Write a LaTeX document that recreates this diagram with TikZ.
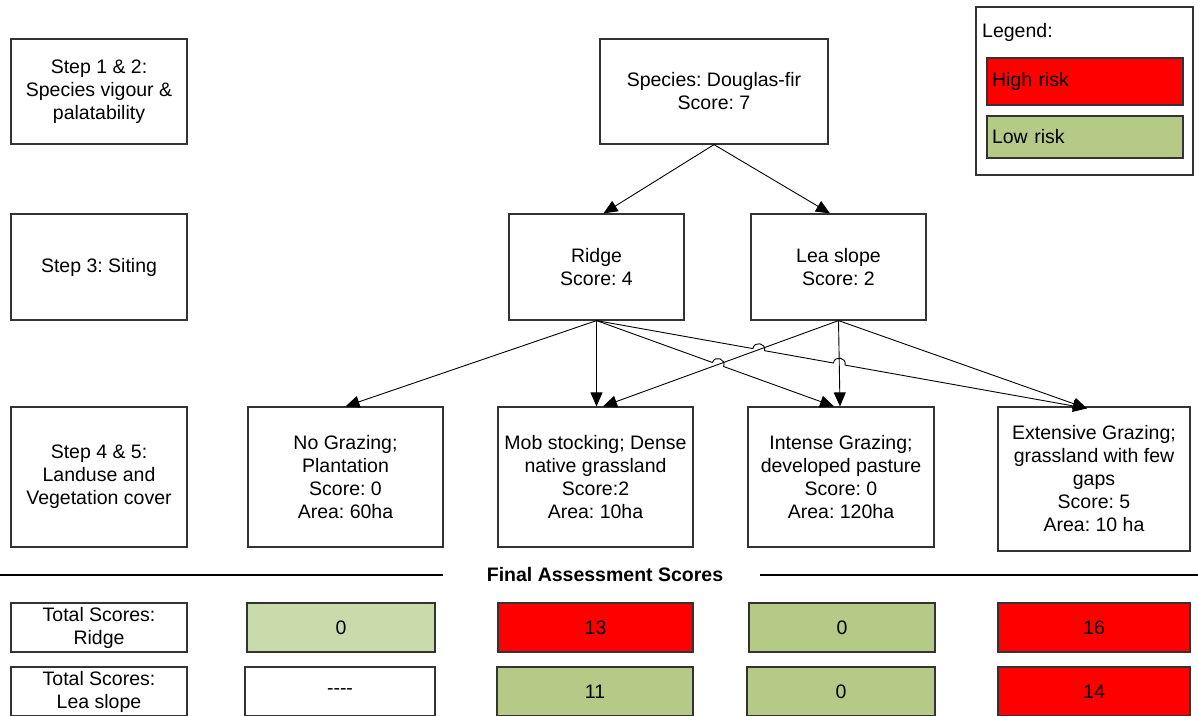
\documentclass[tikz,border=0pt]{standalone}
\usepackage{fontspec}
\setmainfont{Liberation Sans}
\usetikzlibrary{arrows.meta,calc,intersections}
\definecolor{hi}{HTML}{FF0000}
\definecolor{lo}{HTML}{B5CA87}
\definecolor{lotwo}{HTML}{CADBAB}
\frenchspacing
\begin{document}
\begin{tikzpicture}[x=1pt,y=-1pt,
  box/.style={draw=black!80, line width=1.2pt, fill=white, inner sep=0pt, align=center,
    font=\fontsize{19.5}{23}\selectfont},
  cell/.style={box, minimum height=49pt},
  lgbox/.style={box, align=left, text width=186pt, inner xsep=5pt, minimum width=196pt},
  arr/.style={line width=0.9pt, -{Triangle[length=14pt,width=12pt]}},
  sepline/.style={line width=2.7pt}]
\useasboundingbox (0,0) rectangle (1198,715);
\clip (0,0) rectangle (1198,715);

% step labels
\node[box, minimum width=176pt, minimum height=105pt] (s12) at (99,91.5) {Step 1 \& 2:\\Species vigour \&\\palatability};
\node[box, minimum width=176pt, minimum height=106pt] (s3) at (99,267) {Step 3: Siting};
\node[box, minimum width=176pt, minimum height=140pt] (s45) at (99,477) {Step 4 \& 5:\\Landuse and\\Vegetation cover};

% tree
\node[box, minimum width=228pt, minimum height=105pt] (sp) at (714,91.5) {Species: Douglas-fir\\Score: 7};
\node[box, minimum width=175pt, minimum height=106pt] (ridge) at (596.5,267) {Ridge\\Score: 4};
\node[box, minimum width=175pt, minimum height=106pt] (lea) at (838.5,267) {Lea slope\\Score: 2};

\node[box, minimum width=195pt, minimum height=140pt] (ng) at (345.5,477) {No Grazing;\\Plantation\\Score: 0\\Area: 60ha};
\node[box, minimum width=195pt, minimum height=140pt] (mob) at (595.5,477) {Mob stocking; Dense\\native grassland\\Score:2\\Area: 10ha};
\node[box, minimum width=186pt, minimum height=140pt] (int) at (841,477) {Intense Grazing;\\developed pasture\\Score: 0\\Area: 120ha};
\node[box, minimum width=192pt, minimum height=144pt] (ext) at (1094,479) {Extensive Grazing;\\grassland with few\\gaps\\Score: 5\\Area: 10 ha};

% connector end points
\coordinate (ridgeT) at ($(ridge.north)+(7,0)$);
\coordinate (leaT) at ($(lea.north)+(-8.5,0)$);
\coordinate (mobTR) at ($(mob.north)+(7.5,0)$);
\coordinate (intTR) at ($(int.north)+(-7,0)$);
\coordinate (intTL) at ($(int.north)+(-1,0)$);
\coordinate (extT) at ($(ext.north)+(-7,2)$);

\draw[arr] (sp.south) -- (ridgeT);
\draw[arr] (sp.south) -- (leaT);
\draw[arr] (ridge.south) -- (ng.north);
\draw[arr] (ridge.south) -- (ridge.south |- mob.north);
\draw[arr] (lea.south) -- (mobTR);
\draw[arr] (lea.south) -- (intTL);
\draw[arr] (lea.south) -- (extT);

\path[name path=LM] (lea.south) -- (mobTR);
\path[name path=LI] (lea.south) -- (intTL);
\path[name path=RI] (ridge.south) -- (intTR);
\path[name path=RE] (ridge.south) -- (extT);
\path[name intersections={of=RI and LM, by={h1}}];
\path[name intersections={of=RE and LM, by={h2}}];
\path[name intersections={of=RE and LI, by={h3}}];

\draw[arr] (ridge.south) -- ($(h1)!6pt!(ridge.south)$)
  to[bend left=90, looseness=1.7] ($(h1)!6pt!(intTR)$) -- (intTR);
\draw[arr] (ridge.south) -- ($(h2)!6pt!(ridge.south)$)
  to[bend left=90, looseness=1.7] ($(h2)!6pt!(extT)$)
  -- ($(h3)!6pt!(ridge.south)$)
  to[bend left=90, looseness=1.7] ($(h3)!6pt!(extT)$) -- (extT);

% final assessment separator
\node[font=\fontsize{19.5}{23}\selectfont\bfseries, inner sep=0pt] (fas) at (605,575) {Final Assessment Scores};
\coordinate (la) at (0,575);
\coordinate (lb) at (443,575);
\coordinate (ra) at (760,575);
\coordinate (rb) at (1198,575);
\draw[sepline] (la) -- (lb);
\draw[sepline] (ra) -- (rb);

% score rows
\node[cell, minimum width=176pt] (tr) at (99,627.5) {Total Scores:\\Ridge};
\node[cell, fill=lotwo, minimum width=188pt] (r1) at (341,627.5) {0};
\node[cell, fill=hi, minimum width=195pt] (r2) at (595.5,627.5) {13};
\node[cell, fill=lo, minimum width=186pt] (r3) at (842,627.5) {0};
\node[cell, fill=hi, minimum width=192pt] (r4) at (1094,627.5) {16};

\node[cell, minimum width=176pt] (tl) at (99,691.5) {Total Scores:\\Lea slope};
\node[cell, minimum width=190pt] (l1) at (340,691.5) {{-}{-}{-}{-}};
\node[cell, fill=lo, minimum width=196pt] (l2) at (595,691.5) {11};
\node[cell, fill=lo, minimum width=188pt] (l3) at (841,691.5) {0};
\node[cell, fill=hi, minimum width=192pt] (l4) at (1094,691.5) {14};

% legend
\node[box, minimum width=217pt, minimum height=168pt] (leg) at (1084.5,91) {};
\node[font=\fontsize{19.5}{23}\selectfont, inner sep=0pt, anchor=west] (legt) at (982,32) {Legend:};
\node[lgbox, fill=hi, minimum height=47pt] (hr) at (1085,81.5) {High risk};
\node[lgbox, fill=lo, minimum height=42pt] (lr) at (1085,137) {Low risk};
\end{tikzpicture}
\end{document}
